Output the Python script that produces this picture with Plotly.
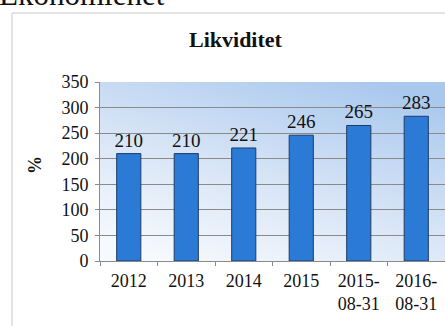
import plotly.graph_objects as go

# Likviditet per period (%)
categories = ["2012", "2013", "2014", "2015", "2015-<br>08-31", "2016-<br>08-31"]
values = [210, 210, 221, 246, 265, 283]
y_ticks = [0, 50, 100, 150, 200, 250, 300, 350]

W, H = 445, 326
ML, MR, MT, MB = 100, 0, 82, 65
PW, PH = W - ML - MR, H - MT - MB

def px_x(px):
    return (px - ML) / PW

def px_y(py):
    return (H - MB - py) / PH

SERIF = "Liberation Serif, Times New Roman, serif"

# soft blue gradient for the plotting area
grad_svg = (
    "data:image/svg+xml;utf8,"
    "<svg xmlns='http://www.w3.org/2000/svg' width='100' height='100' preserveAspectRatio='none'>"
    "<defs><linearGradient id='g' x1='0.8' y1='0' x2='0.2' y2='1'>"
    "<stop offset='0' stop-color='%23a9c8ee'/>"
    "<stop offset='0.55' stop-color='%23d8e5f6'/>"
    "<stop offset='1' stop-color='%23f6f9fd'/>"
    "</linearGradient></defs>"
    "<rect width='100' height='100' fill='url(%23g)'/></svg>"
)

fig = go.Figure()
fig.add_trace(go.Bar(
    x=categories,
    y=values,
    width=0.42,
    marker=dict(color="#2a7ad6", line=dict(color="#1d3c66", width=1)),
    text=[str(v) for v in values],
    textposition="outside",
    constraintext="none",
    textfont=dict(family=SERIF, size=19, color="#111111"),
    cliponaxis=False,
))

fig.update_layout(
    width=W, height=H,
    margin=dict(l=ML, r=MR, t=MT, b=MB),
    paper_bgcolor="white",
    plot_bgcolor="rgba(0,0,0,0)",
    showlegend=False,
    font=dict(family=SERIF, color="#111111"),
    images=[dict(
        source=grad_svg, xref="paper", yref="paper",
        x=0, y=1, sizex=1, sizey=1, sizing="stretch",
        xanchor="left", yanchor="top", layer="below",
    )],
    shapes=[
        # outer chart frame
        dict(type="rect", xref="paper", yref="paper",
             x0=px_x(12), y0=px_y(340), x1=px_x(460), y1=px_y(13),
             line=dict(color="#c8c8c8", width=1), fillcolor="rgba(0,0,0,0)",
             layer="below"),
    ],
    annotations=[
        dict(text="<b>Likviditet</b>", xref="paper", yref="paper",
             x=px_x(236), y=px_y(40), xanchor="center", yanchor="middle",
             showarrow=False, font=dict(family=SERIF, size=22, color="#111111")),
        dict(text="<b>%</b>", xref="paper", yref="paper",
             x=px_x(35), y=px_y(165), xanchor="center", yanchor="middle",
             textangle=-90, showarrow=False,
             font=dict(family=SERIF, size=18, color="#111111")),
        dict(text="Ekonomienet", xref="paper", yref="paper",
             x=px_x(-3), y=px_y(-5), xanchor="left", yanchor="middle",
             showarrow=False, font=dict(family=SERIF, size=31, color="#111111")),
    ],
)

fig.update_xaxes(
    type="category",
    range=[-0.5, 5.5],
    showgrid=False,
    showline=True, linecolor="#8a8a8a", linewidth=1,
    ticks="outside", tickson="boundaries", ticklen=4, tickcolor="#8a8a8a",
    ticklabelstandoff=3,
    tickfont=dict(family=SERIF, size=18, color="#111111"),
)
fig.update_yaxes(
    range=[0, 350],
    tickvals=y_ticks,
    showgrid=True, gridcolor="#8a8a8a", gridwidth=1,
    showline=True, linecolor="#8a8a8a", linewidth=1,
    ticks="outside", ticklen=4, tickcolor="#8a8a8a",
    ticklabelstandoff=3,
    tickfont=dict(family=SERIF, size=18, color="#111111"),
    zeroline=False,
)

fig.write_html("out.html")
